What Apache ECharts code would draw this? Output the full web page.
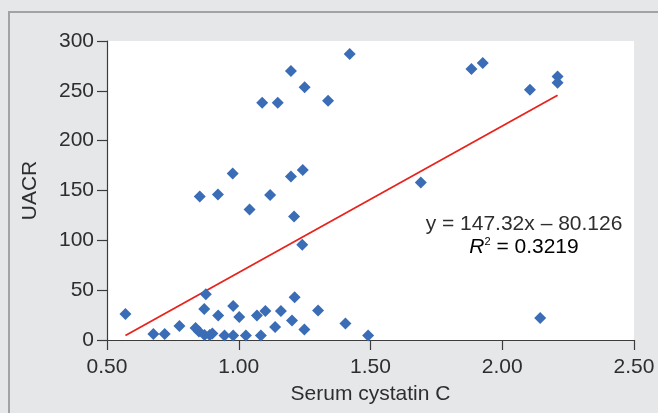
<!DOCTYPE html>
<html>
<head>
<meta charset="utf-8">
<title>UACR vs Serum cystatin C</title>
<script src="https://cdn.jsdelivr.net/npm/echarts@6/dist/echarts.min.js"></script>
<style>
    html, body{
        margin: 0;
        padding: 0;
        background: #e6e7e9;
    }
    #chart{
        width: 658px;
        height: 413px;
    }
</style>
</head>
<body>
<div id="chart"></div>
<script>
    // data
    let cysC = [0.57, 0.676, 0.719, 0.775, 0.836, 0.849, 0.852, 0.869, 0.875, 0.87,
                0.89, 0.9, 0.921, 0.922, 0.946, 0.977, 0.979, 0.979, 1.002, 1.027,
                1.041, 1.069, 1.084, 1.089, 1.101, 1.119, 1.138, 1.148, 1.16, 1.198,
                1.198, 1.202, 1.21, 1.212, 1.243, 1.241, 1.25, 1.249, 1.301, 1.339,
                1.405, 1.421, 1.491, 1.691, 1.883, 1.926, 2.105, 2.21, 2.21, 2.144];
    let uacr = [26, 6, 6, 14, 12, 8.5, 144, 31, 46, 5,
                5, 6.5, 146, 24.5, 4.5, 167, 34, 4.5, 23, 4.5,
                131, 24.5, 4.5, 238, 29, 145.5, 13, 238, 29, 270,
                164, 19.5, 124, 43, 170.5, 95.5, 253.5, 10.5, 29.5, 240,
                16.5, 287, 4.5, 158, 272, 278, 251, 264.5, 258, 22];
    // trend line ends
    let trendX = [0.57, 2.21];
    let trendY = [4.5, 245.5];
    let xTicks = [0.5, 2.5, 0.5];
    let yTicks = [0, 300, 50];
    let eqText = 'y = 147.32x – 80.126';
    let r2Text = ' = 0.3219';

    let chart = echarts.init(document.getElementById('chart'));
    let font = 'Liberation Sans, Arial, sans-serif';
    let axisColor = '#3c3c3c';
    let textColor = '#2e2e2e';

    let points = cysC.map((x, i) => [x, uacr[i]]);
    let trend = trendX.map((x, i) => [x, trendY[i]]);

    let option = {
        backgroundColor: '#e6e7e9',
        animation: false,
        grid: {
            left: 107,
            right: 24,
            top: 41,
            bottom: 73,
            show: true,
            backgroundColor: '#ffffff',
            borderWidth: 0
        },
        xAxis: {
            type: 'value',
            min: xTicks[0],
            max: xTicks[1],
            interval: xTicks[2],
            name: 'Serum cystatin C',
            nameLocation: 'middle',
            nameGap: 44,
            nameTextStyle: {color: textColor, fontSize: 21, fontFamily: font},
            axisLine: {show: true, lineStyle: {color: axisColor, width: 1.2}},
            axisTick: {show: true, length: 10, lineStyle: {color: axisColor, width: 1.2}},
            axisLabel: {
                color: textColor, fontSize: 21, fontFamily: font, margin: 17,
                formatter: v => v.toFixed(2)
            },
            splitLine: {show: false}
        },
        yAxis: {
            type: 'value',
            min: yTicks[0],
            max: yTicks[1],
            interval: yTicks[2],
            name: 'UACR',
            nameLocation: 'middle',
            nameGap: 66,
            nameRotate: 90,
            nameTextStyle: {color: textColor, fontSize: 21, fontFamily: font},
            axisLine: {show: true, lineStyle: {color: axisColor, width: 1.2}},
            axisTick: {show: true, length: 10, lineStyle: {color: axisColor, width: 1.2}},
            axisLabel: {color: textColor, fontSize: 21, fontFamily: font, margin: 13},
            splitLine: {show: false}
        },
        graphic: [
            {
                type: 'polyline',
                silent: true,
                shape: {points: [[9, 413], [9, 12], [658, 12]]},
                style: {stroke: '#a2a3a5', lineWidth: 2, fill: null}
            },
            {
                type: 'text',
                x: 524, y: 224,
                style: {
                    text: eqText,
                    font: '21px ' + font,
                    fill: textColor,
                    align: 'center',
                    verticalAlign: 'middle'
                }
            },
            {
                type: 'text',
                x: 524, y: 247,
                style: {
                    text: '{i|R}{s|2}{n|' + r2Text + '}',
                    align: 'center',
                    verticalAlign: 'middle',
                    rich: {
                        i: {fontSize: 21, fontStyle: 'italic', fontFamily: font, color: textColor},
                        s: {fontSize: 11, fontFamily: font, color: textColor, padding: [0, 0, 10, 0]},
                        n: {fontSize: 21, fontFamily: font, color: textColor}
                    }
                }
            }
        ],
        series: [
            {
                name: 'trend',
                type: 'line',
                data: trend,
                symbol: 'none',
                silent: true,
                lineStyle: {color: '#e8231d', width: 1.8},
                z: 1
            },
            {
                name: 'UACR',
                type: 'scatter',
                data: points,
                symbol: 'diamond',
                symbolSize: [12, 12],
                itemStyle: {color: '#3a6db5', opacity: 1},
                z: 2
            }
        ]
    };
    chart.setOption(option);
</script>
</body>
</html>
